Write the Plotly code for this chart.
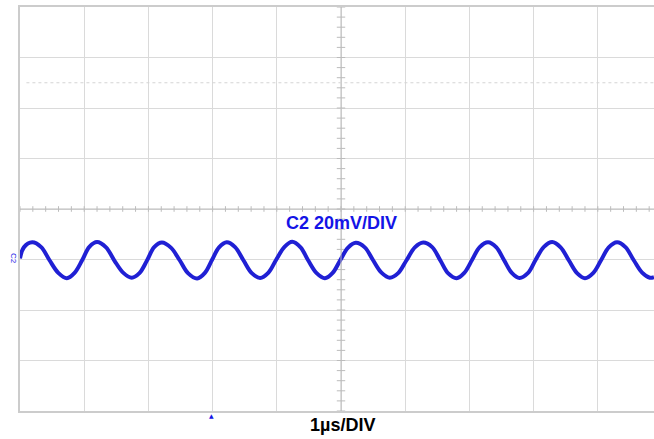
import numpy as np
import plotly.graph_objects as go

# ---- waveform readings (time in µs, voltage in mV, C2 at 20 mV/div) ----
t_us = [0.00, 0.06, 0.19, 0.33, 0.46, 0.60, 0.73, 0.85, 0.97, 1.08, 1.20, 1.34, 1.47, 1.61, 1.74,
        1.86, 1.98, 2.09, 2.21, 2.35, 2.49, 2.62, 2.76, 2.88, 2.99, 3.10, 3.22, 3.35, 3.48, 3.61,
        3.74, 3.87, 3.99, 4.12, 4.24, 4.37, 4.49, 4.62, 4.75, 4.87, 4.99, 5.11, 5.23, 5.37, 5.50,
        5.63, 5.76, 5.89, 6.02, 6.15, 6.28, 6.42, 6.55, 6.67, 6.80, 6.92, 7.04, 7.16, 7.29, 7.42,
        7.54, 7.66, 7.78, 7.91, 8.03, 8.16, 8.29, 8.42, 8.55, 8.68, 8.80, 8.93, 9.05, 9.17, 9.30,
        9.43, 9.56, 9.69, 9.81, 9.875]
v_mV = [-19.6, -15.2, -13.2, -15.1, -20.3, -25.4, -27.4, -25.3, -20.2, -15.0, -13.1, -15.2, -20.4,
        -25.3, -27.2, -25.4, -20.3, -15.1, -13.3, -15.3, -20.4, -25.5, -27.5, -25.3, -20.2, -15.2,
        -13.2, -15.1, -20.3, -25.4, -27.3, -25.2, -20.1, -15.0, -13.0, -15.2, -20.4, -25.4, -27.4,
        -25.3, -20.2, -15.3, -13.4, -15.2, -20.3, -25.2, -27.2, -25.4, -20.3, -15.2, -13.3, -15.1,
        -20.5, -25.5, -27.4, -25.3, -20.2, -15.1, -13.2, -15.2, -20.3, -25.3, -27.3, -25.4, -20.2,
        -15.0, -13.1, -15.2, -20.4, -25.5, -27.4, -25.3, -20.3, -15.2, -13.2, -15.1, -20.3, -25.2,
        -27.2, -27.0]

x_range = [0, 9.875]          # visible part of the 10 µs screen
y_range = [-80, 80]           # 8 div x 20 mV
trigger_t = 2.99
cursor_level = 50

trace_color = "#2020d4"
text_blue = "#1414e6"
grid_color = "#dadada"
axis_color = "#bcbcbc"

fig = go.Figure()

# minor ticks on centre axes
hx = np.arange(0, 10.01, 0.2)
vy = np.arange(-80, 80.01, 4)
fig.add_trace(go.Scatter(x=hx, y=[0] * len(hx), mode="markers",
                         marker=dict(symbol="line-ns", size=4, line=dict(color=axis_color, width=1)),
                         hoverinfo="skip", showlegend=False))
fig.add_trace(go.Scatter(x=[5] * len(vy), y=vy, mode="markers",
                         marker=dict(symbol="line-ew", size=6, line=dict(color=axis_color, width=1)),
                         hoverinfo="skip", showlegend=False))

# waveform
fig.add_trace(go.Scatter(x=t_us, y=v_mV, mode="lines",
                         line=dict(color=trace_color, width=4, shape="spline", smoothing=1.0),
                         hoverinfo="skip", showlegend=False))

# centre axes and cursor line
fig.add_shape(type="line", x0=5, x1=5, y0=-80, y1=80, line=dict(color=axis_color, width=1))
fig.add_shape(type="line", x0=0, x1=10, y0=0, y1=0, line=dict(color=axis_color, width=1))
fig.add_shape(type="line", x0=0.1, x1=10, y0=cursor_level, y1=cursor_level,
              line=dict(color="#d4d4d4", width=1, dash="dot"))

# trigger position marker
fig.add_annotation(x=trigger_t, y=0, xref="x", yref="paper", yshift=-4, text="▲",
                   showarrow=False, xanchor="center", yanchor="middle",
                   font=dict(family="DejaVu Sans", size=6, color=text_blue))

fig.add_annotation(x=5, y=-5.7, xref="x", yref="y", text="<b>C2 20mV/DIV</b>",
                   showarrow=False, xanchor="center", yanchor="middle",
                   font=dict(family="Liberation Sans, Arial", size=18, color=text_blue))
fig.add_annotation(x=5.03, y=0, xref="x", yref="paper", yshift=-14, text="<b>1µs/DIV</b>",
                   showarrow=False, xanchor="center", yanchor="middle",
                   font=dict(family="Liberation Sans, Arial", size=18, color="#000000"))
fig.add_annotation(x=0, y=-19.4, xref="paper", yref="y", xshift=-7, text="C2",
                   showarrow=False, textangle=90, xanchor="center", yanchor="middle",
                   font=dict(family="Liberation Sans, Arial", size=8, color=text_blue))

fig.update_layout(
    width=654, height=439,
    margin=dict(l=20, r=0, t=7, b=28),
    paper_bgcolor="white", plot_bgcolor="white",
    showlegend=False,
    xaxis=dict(range=x_range, tick0=0, dtick=1, showgrid=True, gridcolor=grid_color, gridwidth=1,
               showticklabels=False, ticks="", zeroline=False,
               showline=True, linecolor="#cccccc", linewidth=2, mirror=True, fixedrange=True,
               layer="below traces"),
    yaxis=dict(range=y_range, tick0=0, dtick=20, showgrid=True, gridcolor=grid_color, gridwidth=1,
               showticklabels=False, ticks="", zeroline=False,
               showline=True, linecolor="#cccccc", linewidth=2, mirror=False, fixedrange=True,
               layer="below traces"),
)

fig.write_html("out.html", config={"displayModeBar": False},
               post_script="document.body.style.margin='0';document.body.style.overflow='hidden';")
